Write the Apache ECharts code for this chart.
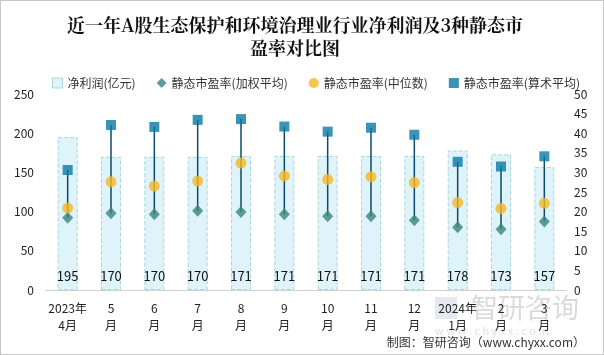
<!DOCTYPE html>
<html><head><meta charset="utf-8">
<script src="https://cdn.jsdelivr.net/npm/echarts@6/dist/echarts.min.js"></script>
<style>html,body{margin:0;padding:0;background:#fff}#c{width:602px;height:353px;border:1px solid #c8c8c8}</style>
</head><body><div id="c"></div>
<script>
var categories = ['2023年\n4月','5\n月','6\n月','7\n月','8\n月','9\n月','10\n月','11\n月','12\n月','2024年\n1月','2\n月','3\n月'];
var netProfit = [195,170,170,170,171,171,171,171,171,178,173,157];
var peWeighted = [18.4,19.6,19.3,20.2,19.9,19.3,18.8,18.8,17.8,16.0,15.5,17.5];
var peMedian = [20.9,27.6,26.5,27.8,32.4,29.1,28.2,28.9,27.4,22.3,20.8,22.1];
var peMean = [30.6,42.1,41.6,43.4,43.6,41.7,40.4,41.4,39.6,32.7,31.5,34.1];
var leftTicks = [0,50,100,150,200,250];
var rightTicks = [0,5,10,15,20,25,30,35,40,45,50];

var rangeData = categories.map(function(c,i){
  return [i, Math.min(peWeighted[i],peMedian[i],peMean[i]), Math.max(peWeighted[i],peMedian[i],peMean[i])];
});

var chart = echarts.init(document.getElementById('c'));
var font = 'Microsoft YaHei, "Noto Sans CJK SC", sans-serif';
chart.setOption({
  animation:false,
  textStyle:{fontFamily:font},
  title:{text:'近一年A股生态保护和环境治理业行业净利润及3种静态市\n盈率对比图',left:289,textAlign:'center',top:8,
    textStyle:{fontSize:18,fontWeight:'bold',color:'#111',lineHeight:23,fontFamily:'"Noto Serif CJK SC","Noto Sans CJK SC",serif'}},
  legend:{top:71,left:46,itemGap:21,itemWidth:10,itemHeight:10,
    textStyle:{fontSize:12,color:'#333'},
    data:[
      {name:'净利润(亿元)',icon:'rect',itemStyle:{color:'#dff3fa',borderColor:'#a8d8d8',borderWidth:1}},
      {name:'静态市盈率(加权平均)',icon:'diamond',itemStyle:{color:'#38847c'}},
      {name:'静态市盈率(中位数)',icon:'circle',itemStyle:{color:'#f4b824'}},
      {name:'静态市盈率(算术平均)',icon:'rect',itemStyle:{color:'#0a78a4'}}
    ]},
  grid:{left:45,right:37,top:93,bottom:64},
  xAxis:{type:'category',data:categories,
    axisLine:{lineStyle:{color:'#d0d0d0'}},axisTick:{show:false},
    axisLabel:{color:'#222',fontSize:12,lineHeight:17,interval:0,margin:10}},
  yAxis:[
    {type:'value',min:0,max:250,interval:50,splitLine:{show:false},axisLine:{show:false},axisTick:{show:false},
     axisLabel:{color:'#222',fontSize:12,margin:12}},
    {type:'value',min:0,max:50,interval:5,splitLine:{show:false},axisLine:{show:false},axisTick:{show:false},
     axisLabel:{color:'#222',fontSize:12,margin:8}}
  ],
  series:[
    {name:'净利润(亿元)',type:'bar',data:netProfit,barWidth:20,
     itemStyle:{color:'#dff3fa',borderColor:'#a8d8d8',borderWidth:1,borderType:'dashed'},
     label:{show:true,position:'insideBottom',distance:7,color:'#111',fontSize:13}},
    {name:'range',type:'custom',yAxisIndex:1,data:rangeData,z:3,
     renderItem:function(params,api){
       var p1=api.coord([api.value(0),api.value(1)]);
       var p2=api.coord([api.value(0),api.value(2)]);
       return {type:'line',shape:{x1:p1[0],y1:p1[1],x2:p2[0],y2:p2[1]},style:{stroke:'#0d4a6b',lineWidth:1.5}};
     }},
    {name:'静态市盈率(加权平均)',type:'scatter',yAxisIndex:1,data:peWeighted,symbol:'diamond',symbolSize:[11,12],
     itemStyle:{color:'#38847c'},z:4},
    {name:'静态市盈率(中位数)',type:'scatter',yAxisIndex:1,data:peMedian,symbol:'circle',symbolSize:11,
     itemStyle:{color:'#f4b824'},z:4},
    {name:'静态市盈率(算术平均)',type:'scatter',yAxisIndex:1,data:peMean,symbol:'rect',symbolSize:10,
     itemStyle:{color:'#0a78a4'},z:4}
  ],
  graphic:[
    {type:'rect',left:434,top:296,z:0,shape:{width:22,height:22},style:{fill:'rgba(170,180,200,0.3)'}},
    {type:'text',left:470,top:293,z:0,style:{text:'智研咨询',fontSize:27,fill:'rgba(150,150,150,0.35)',fontFamily:font}},
    {type:'text',left:434,top:324,z:0,style:{text:'w w w . c h y x x . c o m',fontSize:11,fill:'rgba(150,150,150,0.3)',fontFamily:font}},
    {type:'text',right:18,top:335,style:{text:'制图：智研咨询（www.chyxx.com）',fontSize:12,fill:'#333',fontFamily:font}}
  ]
});
</script></body></html>
